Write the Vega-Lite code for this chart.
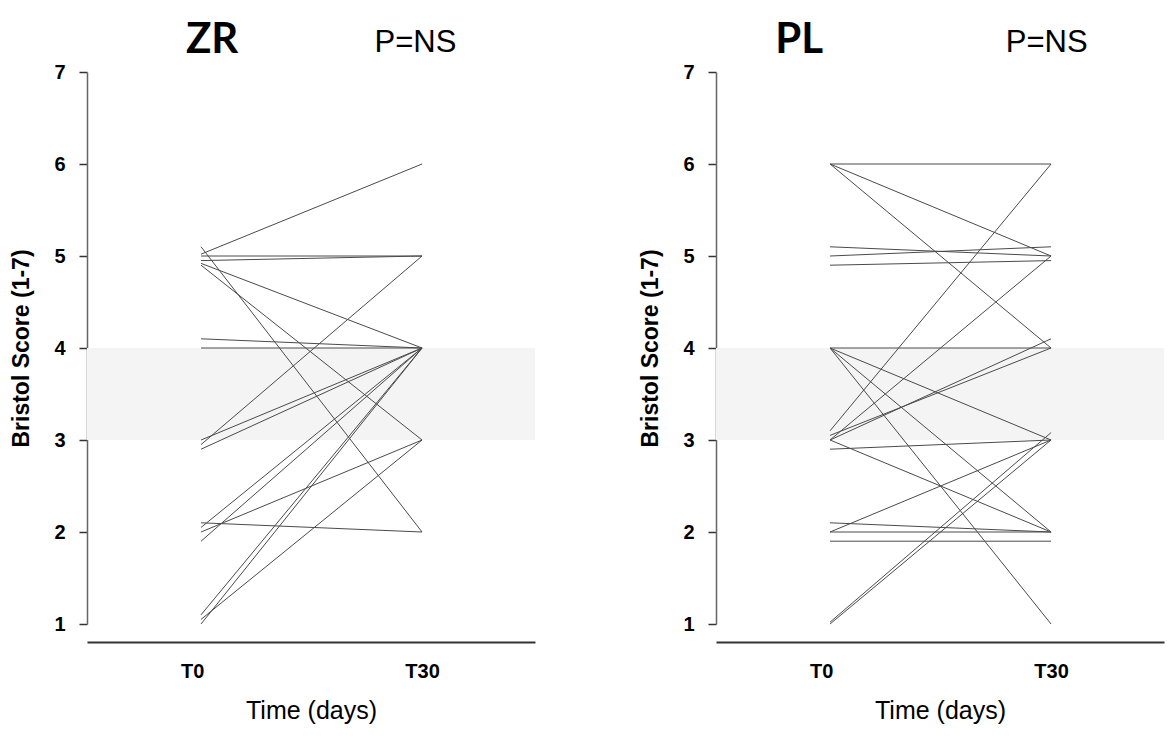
{
  "$schema": "https://vega.github.io/schema/vega-lite/v6.json",
  "background": "white",
  "padding": {"left": 10, "top": 18, "right": 5, "bottom": 5},
  "config": {
    "view": {"stroke": null},
    "font": "Liberation Sans",
    "concat": {"spacing": 104}
  },
  "datasets": {
    "band": [{"lo": 3, "hi": 4}],
    "scores": [
      {"g":"ZR","id":"z1","t":0,"s":5.02},{"g":"ZR","id":"z1","t":1,"s":6.0},
      {"g":"ZR","id":"z2","t":0,"s":5.0},{"g":"ZR","id":"z2","t":1,"s":5.0},
      {"g":"ZR","id":"z3","t":0,"s":4.95},{"g":"ZR","id":"z3","t":1,"s":5.0},
      {"g":"ZR","id":"z4","t":0,"s":4.92},{"g":"ZR","id":"z4","t":1,"s":4.0},
      {"g":"ZR","id":"z5","t":0,"s":4.9},{"g":"ZR","id":"z5","t":1,"s":3.0},
      {"g":"ZR","id":"z6","t":0,"s":5.1},{"g":"ZR","id":"z6","t":1,"s":2.0},
      {"g":"ZR","id":"z7","t":0,"s":4.1},{"g":"ZR","id":"z7","t":1,"s":4.0},
      {"g":"ZR","id":"z8","t":0,"s":4.0},{"g":"ZR","id":"z8","t":1,"s":4.0},
      {"g":"ZR","id":"z9","t":0,"s":2.95},{"g":"ZR","id":"z9","t":1,"s":5.0},
      {"g":"ZR","id":"z10","t":0,"s":3.0},{"g":"ZR","id":"z10","t":1,"s":4.0},
      {"g":"ZR","id":"z11","t":0,"s":2.9},{"g":"ZR","id":"z11","t":1,"s":4.0},
      {"g":"ZR","id":"z12","t":0,"s":2.1},{"g":"ZR","id":"z12","t":1,"s":2.0},
      {"g":"ZR","id":"z13","t":0,"s":2.05},{"g":"ZR","id":"z13","t":1,"s":4.0},
      {"g":"ZR","id":"z14","t":0,"s":2.0},{"g":"ZR","id":"z14","t":1,"s":3.0},
      {"g":"ZR","id":"z15","t":0,"s":1.9},{"g":"ZR","id":"z15","t":1,"s":4.0},
      {"g":"ZR","id":"z16","t":0,"s":1.1},{"g":"ZR","id":"z16","t":1,"s":4.0},
      {"g":"ZR","id":"z17","t":0,"s":1.05},{"g":"ZR","id":"z17","t":1,"s":3.0},
      {"g":"ZR","id":"z18","t":0,"s":1.0},{"g":"ZR","id":"z18","t":1,"s":4.0},
      {"g":"PL","id":"p1","t":0,"s":6.0},{"g":"PL","id":"p1","t":1,"s":6.0},
      {"g":"PL","id":"p2","t":0,"s":6.0},{"g":"PL","id":"p2","t":1,"s":5.0},
      {"g":"PL","id":"p3","t":0,"s":6.0},{"g":"PL","id":"p3","t":1,"s":4.0},
      {"g":"PL","id":"p4","t":0,"s":5.1},{"g":"PL","id":"p4","t":1,"s":5.0},
      {"g":"PL","id":"p5","t":0,"s":5.0},{"g":"PL","id":"p5","t":1,"s":5.1},
      {"g":"PL","id":"p6","t":0,"s":4.9},{"g":"PL","id":"p6","t":1,"s":4.95},
      {"g":"PL","id":"p7","t":0,"s":4.0},{"g":"PL","id":"p7","t":1,"s":4.0},
      {"g":"PL","id":"p8","t":0,"s":4.0},{"g":"PL","id":"p8","t":1,"s":3.0},
      {"g":"PL","id":"p9","t":0,"s":4.0},{"g":"PL","id":"p9","t":1,"s":2.0},
      {"g":"PL","id":"p10","t":0,"s":4.0},{"g":"PL","id":"p10","t":1,"s":1.0},
      {"g":"PL","id":"p11","t":0,"s":3.1},{"g":"PL","id":"p11","t":1,"s":6.0},
      {"g":"PL","id":"p12","t":0,"s":3.0},{"g":"PL","id":"p12","t":1,"s":5.0},
      {"g":"PL","id":"p13","t":0,"s":3.0},{"g":"PL","id":"p13","t":1,"s":4.1},
      {"g":"PL","id":"p14","t":0,"s":3.05},{"g":"PL","id":"p14","t":1,"s":4.0},
      {"g":"PL","id":"p15","t":0,"s":3.0},{"g":"PL","id":"p15","t":1,"s":2.0},
      {"g":"PL","id":"p16","t":0,"s":2.9},{"g":"PL","id":"p16","t":1,"s":3.0},
      {"g":"PL","id":"p17","t":0,"s":2.1},{"g":"PL","id":"p17","t":1,"s":2.0},
      {"g":"PL","id":"p18","t":0,"s":2.0},{"g":"PL","id":"p18","t":1,"s":3.0},
      {"g":"PL","id":"p19","t":0,"s":1.9},{"g":"PL","id":"p19","t":1,"s":1.9},
      {"g":"PL","id":"p20","t":0,"s":1.0},{"g":"PL","id":"p20","t":1,"s":3.0},
      {"g":"PL","id":"p21","t":0,"s":1.02},{"g":"PL","id":"p21","t":1,"s":3.08},
      {"g":"PL","id":"p22","t":0,"s":2.0},{"g":"PL","id":"p22","t":1,"s":2.0}
    ],
    "titles": [
      {"g":"ZR","name":"ZR","pval":"P=NS"},
      {"g":"PL","name":"PL","pval":"P=NS"}
    ]
  },
  "hconcat": [
    {
      "width": 448, "height": 552,
      "layer": [
        {
          "data": {"name": "band"},
          "mark": {"type": "rect", "color": "#f4f4f4"},
          "encoding": {
            "y": {"field": "lo", "type": "quantitative", "scale": {"domain": [1, 7], "nice": false, "zero": false}, "title": "Bristol Score (1-7)",
              "axis": {"grid": false, "values": [1,2,3,4,5,6,7], "format": "d", "domainColor": "#666", "domainWidth": 1.5, "tickColor": "#333", "tickSize": 8, "tickWidth": 1.5, "labelFontWeight": "bold", "labelFontSize": 20, "labelColor": "black", "labelPadding": 14, "titleFontSize": 23, "titleFontWeight": "bold", "titleColor": "black", "titlePadding": 20}},
            "y2": {"field": "hi"}
          }
        },
        {
          "data": {"name": "scores"},
          "transform": [{"filter": "datum.g === 'ZR'"}],
          "mark": {"type": "line", "color": "#4a4a4a", "strokeWidth": 1},
          "encoding": {
            "x": {"field": "t", "type": "quantitative", "scale": {"domain": [-0.516, 1.511], "nice": false, "zero": false}, "title": "Time (days)",
              "axis": {"values": [-0.04, 1], "labelExpr": "datum.value < 0.5 ? 'T0' : 'T30'", "grid": false, "ticks": false, "offset": 18, "domainColor": "#333", "domainWidth": 2, "labelFontSize": 20, "labelFontWeight": "bold", "labelColor": "black", "labelPadding": 19, "titleFontSize": 25, "titleFontWeight": "normal", "titleColor": "black", "titlePadding": 17, "labelAngle": 0}},
            "y": {"field": "s", "type": "quantitative"},
            "detail": {"field": "id"}
          }
        },
        {
          "data": {"name": "titles"},
          "transform": [{"filter": "datum.g === 'ZR'"}],
          "mark": {"type": "text", "font": "Lato", "fontWeight": "bold", "fontSize": 42, "color": "black", "baseline": "middle", "align": "center"},
          "encoding": {"x": {"datum": 0.05}, "y": {"datum": 7.35}, "text": {"field": "name"}}
        },
        {
          "data": {"name": "titles"},
          "transform": [{"filter": "datum.g === 'ZR'"}],
          "mark": {"type": "text", "font": "Liberation Sans", "fontSize": 31, "color": "black", "baseline": "middle", "align": "center"},
          "encoding": {"x": {"datum": 0.97}, "y": {"datum": 7.32}, "text": {"field": "pval"}}
        }
      ]
    },
    {
      "width": 448, "height": 552,
      "layer": [
        {
          "data": {"name": "band"},
          "mark": {"type": "rect", "color": "#f4f4f4"},
          "encoding": {
            "y": {"field": "lo", "type": "quantitative", "scale": {"domain": [1, 7], "nice": false, "zero": false}, "title": "Bristol Score (1-7)",
              "axis": {"grid": false, "values": [1,2,3,4,5,6,7], "format": "d", "domainColor": "#666", "domainWidth": 1.5, "tickColor": "#333", "tickSize": 8, "tickWidth": 1.5, "labelFontWeight": "bold", "labelFontSize": 20, "labelColor": "black", "labelPadding": 14, "titleFontSize": 23, "titleFontWeight": "bold", "titleColor": "black", "titlePadding": 20}},
            "y2": {"field": "hi"}
          }
        },
        {
          "data": {"name": "scores"},
          "transform": [{"filter": "datum.g === 'PL'"}],
          "mark": {"type": "line", "color": "#4a4a4a", "strokeWidth": 1},
          "encoding": {
            "x": {"field": "t", "type": "quantitative", "scale": {"domain": [-0.516, 1.511], "nice": false, "zero": false}, "title": "Time (days)",
              "axis": {"values": [-0.04, 1], "labelExpr": "datum.value < 0.5 ? 'T0' : 'T30'", "grid": false, "ticks": false, "offset": 18, "domainColor": "#333", "domainWidth": 2, "labelFontSize": 20, "labelFontWeight": "bold", "labelColor": "black", "labelPadding": 19, "titleFontSize": 25, "titleFontWeight": "normal", "titleColor": "black", "titlePadding": 17, "labelAngle": 0}},
            "y": {"field": "s", "type": "quantitative"},
            "detail": {"field": "id"}
          }
        },
        {
          "data": {"name": "titles"},
          "transform": [{"filter": "datum.g === 'PL'"}],
          "mark": {"type": "text", "font": "Lato", "fontWeight": "bold", "fontSize": 42, "color": "black", "baseline": "middle", "align": "center"},
          "encoding": {"x": {"datum": -0.14}, "y": {"datum": 7.35}, "text": {"field": "name"}}
        },
        {
          "data": {"name": "titles"},
          "transform": [{"filter": "datum.g === 'PL'"}],
          "mark": {"type": "text", "font": "Liberation Sans", "fontSize": 31, "color": "black", "baseline": "middle", "align": "center"},
          "encoding": {"x": {"datum": 0.98}, "y": {"datum": 7.32}, "text": {"field": "pval"}}
        }
      ]
    }
  ]
}
